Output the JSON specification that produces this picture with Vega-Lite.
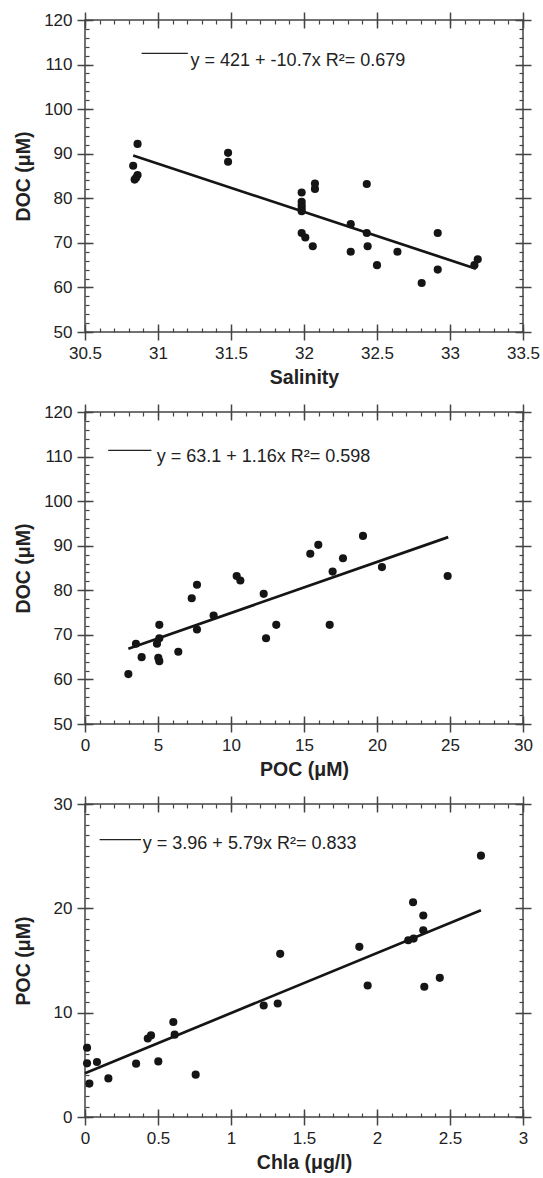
{
  "$schema": "https://vega.github.io/schema/vega-lite/v6.json",
  "padding": {"left": 12, "top": 10, "right": 5, "bottom": 3},
  "spacing": 14,
  "background": "white",
  "config": {
    "view": {"stroke": "#444", "strokeWidth": 1.5},
    "axis": {
      "labelFont": "Liberation Sans", "labelFontSize": 17, "labelColor": "#222",
      "tickColor": "#444", "titleFont": "Liberation Sans", "titleFontSize": 19.5,
      "titleFontWeight": "bold", "titleColor": "#222", "grid": false, "domain": false,
      "labelFlush": false, "labelOverlap": false
    }
  },
  "datasets": {
    "p1": [
      {"salinity": 30.83, "doc": 87.3}, {"salinity": 30.86, "doc": 92.2}, {"salinity": 30.84, "doc": 84.2},
      {"salinity": 30.86, "doc": 85.2}, {"salinity": 30.85, "doc": 84.6}, {"salinity": 31.48, "doc": 90.2},
      {"salinity": 31.48, "doc": 88.2}, {"salinity": 31.984, "doc": 81.3}, {"salinity": 31.984, "doc": 79.2},
      {"salinity": 31.984, "doc": 78.4}, {"salinity": 31.984, "doc": 77.7}, {"salinity": 31.984, "doc": 77.1},
      {"salinity": 32.075, "doc": 83.3}, {"salinity": 32.075, "doc": 82.1}, {"salinity": 31.984, "doc": 72.2},
      {"salinity": 32.009, "doc": 71.2}, {"salinity": 32.06, "doc": 69.25}, {"salinity": 32.32, "doc": 74.2},
      {"salinity": 32.32, "doc": 68.0}, {"salinity": 32.43, "doc": 83.2}, {"salinity": 32.43, "doc": 72.2},
      {"salinity": 32.436, "doc": 69.25}, {"salinity": 32.5, "doc": 65.0}, {"salinity": 32.64, "doc": 68.0},
      {"salinity": 32.806, "doc": 61.0}, {"salinity": 32.916, "doc": 72.2}, {"salinity": 32.916, "doc": 64.0},
      {"salinity": 33.19, "doc": 66.3}, {"salinity": 33.167, "doc": 65.0}
    ],
    "l1": [{"salinity": 30.83, "doc": 89.6}, {"salinity": 33.178, "doc": 64.2}],
    "g1": [{"x1": 30.888, "x2": 31.204, "y": 112.5, "tx": 31.223, "ty": 109.7, "label": "y = 421 + -10.7x R²= 0.679"}],
    "p2": [
      {"poc": 2.97, "doc": 61.2}, {"poc": 3.49, "doc": 68.0}, {"poc": 3.88, "doc": 65.0}, {"poc": 4.93, "doc": 68.0},
      {"poc": 5.09, "doc": 72.25}, {"poc": 5.09, "doc": 69.25}, {"poc": 5.02, "doc": 64.85}, {"poc": 5.09, "doc": 64.1},
      {"poc": 6.39, "doc": 66.2}, {"poc": 7.31, "doc": 78.2}, {"poc": 7.67, "doc": 81.25}, {"poc": 7.67, "doc": 71.2},
      {"poc": 8.81, "doc": 74.35}, {"poc": 10.39, "doc": 83.2}, {"poc": 10.64, "doc": 82.2}, {"poc": 12.24, "doc": 79.2},
      {"poc": 12.4, "doc": 69.25}, {"poc": 13.1, "doc": 72.25}, {"poc": 15.43, "doc": 88.2}, {"poc": 15.98, "doc": 90.2},
      {"poc": 16.76, "doc": 72.25}, {"poc": 16.96, "doc": 84.2}, {"poc": 17.67, "doc": 87.2}, {"poc": 19.04, "doc": 92.2},
      {"poc": 20.34, "doc": 85.2}, {"poc": 24.84, "doc": 83.2}
    ],
    "l2": [{"poc": 2.97, "doc": 66.87}, {"poc": 24.88, "doc": 91.93}],
    "g2": [{"x1": 1.59, "x2": 4.55, "y": 111.4, "tx": 4.91, "ty": 108.8, "label": "y = 63.1 + 1.16x R²= 0.598"}],
    "p3": [
      {"chla": 0.014, "poc": 6.64}, {"chla": 0.014, "poc": 5.14}, {"chla": 0.03, "poc": 3.2}, {"chla": 0.082, "poc": 5.27},
      {"chla": 0.16, "poc": 3.7}, {"chla": 0.35, "poc": 5.11}, {"chla": 0.43, "poc": 7.53}, {"chla": 0.452, "poc": 7.82},
      {"chla": 0.502, "poc": 5.33}, {"chla": 0.605, "poc": 9.1}, {"chla": 0.614, "poc": 7.89}, {"chla": 0.758, "poc": 4.06},
      {"chla": 1.224, "poc": 10.69}, {"chla": 1.32, "poc": 10.88}, {"chla": 1.337, "poc": 15.64}, {"chla": 1.879, "poc": 16.31},
      {"chla": 1.936, "poc": 12.6}, {"chla": 2.214, "poc": 16.94}, {"chla": 2.251, "poc": 17.1}, {"chla": 2.247, "poc": 20.58},
      {"chla": 2.317, "poc": 19.31}, {"chla": 2.317, "poc": 17.9}, {"chla": 2.324, "poc": 12.48}, {"chla": 2.43, "poc": 13.34},
      {"chla": 2.712, "poc": 25.05}
    ],
    "l3": [{"chla": 0.0, "poc": 4.2}, {"chla": 2.712, "poc": 19.82}],
    "g3": [{"x1": 0.1, "x2": 0.384, "y": 26.59, "tx": 0.396, "ty": 25.7, "label": "y = 3.96 + 5.79x R²= 0.833"}]
  },
  "vconcat": [
    {
      "width": 438, "height": 312,
      "resolve": {"axis": {"x": "independent", "y": "independent"}},
      "layer": [
        {
          "data": {"name": "p1"},
          "mark": {"type": "circle", "size": 66, "color": "#151515", "opacity": 1},
          "encoding": {
            "x": {"field": "salinity", "type": "quantitative", "scale": {"domain": [30.5, 33.5], "nice": false, "zero": false},
              "axis": {"orient": "bottom", "values": [30.5, 31, 31.5, 32, 32.5, 33, 33.5], "format": "~r", "offset": -8, "tickSize": 16, "tickWidth": 1.5, "labelPadding": 5, "title": "Salinity", "titleBaseline": "alphabetic", "titleY": 59.6}},
            "y": {"field": "doc", "type": "quantitative", "scale": {"domain": [50, 120], "nice": false, "zero": false},
              "axis": {"orient": "left", "values": [50, 60, 70, 80, 90, 100, 110, 120], "format": "~r", "offset": -8, "tickSize": 16, "tickWidth": 1.5, "labelPadding": 5, "title": "DOC (μM)", "titleBaseline": "alphabetic", "titleAngle": 270, "titleX": -64}}
          }
        },
        {
          "data": {"name": "l1"},
          "mark": {"type": "line", "color": "#151515", "strokeWidth": 2.7},
          "encoding": {
            "x": {"field": "salinity", "type": "quantitative", "scale": {"domain": [30.5, 33.5], "nice": false, "zero": false},
              "axis": {"orient": "bottom", "values": [30.5, 30.6, 30.7, 30.8, 30.9, 31, 31.1, 31.2, 31.3, 31.4, 31.5, 31.6, 31.7, 31.8, 31.9, 32, 32.1, 32.2, 32.3, 32.4, 32.5, 32.6, 32.7, 32.8, 32.9, 33, 33.1, 33.2, 33.3, 33.4, 33.5], "offset": -4, "tickSize": 4, "tickWidth": 1.2, "labels": false, "title": null}},
            "y": {"field": "doc", "type": "quantitative", "scale": {"domain": [50, 120], "nice": false, "zero": false},
              "axis": {"orient": "left", "values": [50, 52, 54, 56, 58, 60, 62, 64, 66, 68, 70, 72, 74, 76, 78, 80, 82, 84, 86, 88, 90, 92, 94, 96, 98, 100, 102, 104, 106, 108, 110, 112, 114, 116, 118, 120], "offset": -4, "tickSize": 4, "tickWidth": 1.2, "labels": false, "title": null}}
          }
        },
        {
          "data": {"name": "g1"},
          "mark": {"type": "rule", "color": "#222", "strokeWidth": 1.3},
          "encoding": {
            "x": {"field": "x1", "type": "quantitative", "scale": {"domain": [30.5, 33.5], "nice": false, "zero": false},
              "axis": {"orient": "top", "values": [30.5, 31, 31.5, 32, 32.5, 33, 33.5], "offset": -8, "tickSize": 16, "tickWidth": 1.5, "labels": false, "title": null}},
            "x2": {"field": "x2"},
            "y": {"field": "y", "type": "quantitative", "scale": {"domain": [50, 120], "nice": false, "zero": false},
              "axis": {"orient": "right", "values": [50, 60, 70, 80, 90, 100, 110, 120], "offset": -8, "tickSize": 16, "tickWidth": 1.5, "labels": false, "title": null}}
          }
        },
        {
          "data": {"name": "g1"},
          "mark": {"type": "text", "align": "left", "baseline": "alphabetic", "font": "Liberation Sans", "fontSize": 18, "color": "#222"},
          "encoding": {
            "x": {"field": "tx", "type": "quantitative", "scale": {"domain": [30.5, 33.5], "nice": false, "zero": false},
              "axis": {"orient": "top", "values": [30.5, 30.6, 30.7, 30.8, 30.9, 31, 31.1, 31.2, 31.3, 31.4, 31.5, 31.6, 31.7, 31.8, 31.9, 32, 32.1, 32.2, 32.3, 32.4, 32.5, 32.6, 32.7, 32.8, 32.9, 33, 33.1, 33.2, 33.3, 33.4, 33.5], "offset": -4, "tickSize": 4, "tickWidth": 1.2, "labels": false, "title": null}},
            "y": {"field": "ty", "type": "quantitative", "scale": {"domain": [50, 120], "nice": false, "zero": false},
              "axis": {"orient": "right", "values": [50, 52, 54, 56, 58, 60, 62, 64, 66, 68, 70, 72, 74, 76, 78, 80, 82, 84, 86, 88, 90, 92, 94, 96, 98, 100, 102, 104, 106, 108, 110, 112, 114, 116, 118, 120], "offset": -4, "tickSize": 4, "tickWidth": 1.2, "labels": false, "title": null}},
            "text": {"field": "label"}
          }
        }
      ]
    },
    {
      "width": 438, "height": 312,
      "resolve": {"axis": {"x": "independent", "y": "independent"}},
      "layer": [
        {
          "data": {"name": "p2"},
          "mark": {"type": "circle", "size": 66, "color": "#151515", "opacity": 1},
          "encoding": {
            "x": {"field": "poc", "type": "quantitative", "scale": {"domain": [0, 30], "nice": false, "zero": false},
              "axis": {"orient": "bottom", "values": [0, 5, 10, 15, 20, 25, 30], "format": "~r", "offset": -8, "tickSize": 16, "tickWidth": 1.5, "labelPadding": 5, "title": "POC (μM)", "titleBaseline": "alphabetic", "titleY": 59.6}},
            "y": {"field": "doc", "type": "quantitative", "scale": {"domain": [50, 120], "nice": false, "zero": false},
              "axis": {"orient": "left", "values": [50, 60, 70, 80, 90, 100, 110, 120], "format": "~r", "offset": -8, "tickSize": 16, "tickWidth": 1.5, "labelPadding": 5, "title": "DOC (μM)", "titleBaseline": "alphabetic", "titleAngle": 270, "titleX": -64}}
          }
        },
        {
          "data": {"name": "l2"},
          "mark": {"type": "line", "color": "#151515", "strokeWidth": 2.7},
          "encoding": {
            "x": {"field": "poc", "type": "quantitative", "scale": {"domain": [0, 30], "nice": false, "zero": false},
              "axis": {"orient": "bottom", "values": [0, 1, 2, 3, 4, 5, 6, 7, 8, 9, 10, 11, 12, 13, 14, 15, 16, 17, 18, 19, 20, 21, 22, 23, 24, 25, 26, 27, 28, 29, 30], "offset": -4, "tickSize": 4, "tickWidth": 1.2, "labels": false, "title": null}},
            "y": {"field": "doc", "type": "quantitative", "scale": {"domain": [50, 120], "nice": false, "zero": false},
              "axis": {"orient": "left", "values": [50, 52, 54, 56, 58, 60, 62, 64, 66, 68, 70, 72, 74, 76, 78, 80, 82, 84, 86, 88, 90, 92, 94, 96, 98, 100, 102, 104, 106, 108, 110, 112, 114, 116, 118, 120], "offset": -4, "tickSize": 4, "tickWidth": 1.2, "labels": false, "title": null}}
          }
        },
        {
          "data": {"name": "g2"},
          "mark": {"type": "rule", "color": "#222", "strokeWidth": 1.3},
          "encoding": {
            "x": {"field": "x1", "type": "quantitative", "scale": {"domain": [0, 30], "nice": false, "zero": false},
              "axis": {"orient": "top", "values": [0, 5, 10, 15, 20, 25, 30], "offset": -8, "tickSize": 16, "tickWidth": 1.5, "labels": false, "title": null}},
            "x2": {"field": "x2"},
            "y": {"field": "y", "type": "quantitative", "scale": {"domain": [50, 120], "nice": false, "zero": false},
              "axis": {"orient": "right", "values": [50, 60, 70, 80, 90, 100, 110, 120], "offset": -8, "tickSize": 16, "tickWidth": 1.5, "labels": false, "title": null}}
          }
        },
        {
          "data": {"name": "g2"},
          "mark": {"type": "text", "align": "left", "baseline": "alphabetic", "font": "Liberation Sans", "fontSize": 18, "color": "#222"},
          "encoding": {
            "x": {"field": "tx", "type": "quantitative", "scale": {"domain": [0, 30], "nice": false, "zero": false},
              "axis": {"orient": "top", "values": [0, 1, 2, 3, 4, 5, 6, 7, 8, 9, 10, 11, 12, 13, 14, 15, 16, 17, 18, 19, 20, 21, 22, 23, 24, 25, 26, 27, 28, 29, 30], "offset": -4, "tickSize": 4, "tickWidth": 1.2, "labels": false, "title": null}},
            "y": {"field": "ty", "type": "quantitative", "scale": {"domain": [50, 120], "nice": false, "zero": false},
              "axis": {"orient": "right", "values": [50, 52, 54, 56, 58, 60, 62, 64, 66, 68, 70, 72, 74, 76, 78, 80, 82, 84, 86, 88, 90, 92, 94, 96, 98, 100, 102, 104, 106, 108, 110, 112, 114, 116, 118, 120], "offset": -4, "tickSize": 4, "tickWidth": 1.2, "labels": false, "title": null}},
            "text": {"field": "label"}
          }
        }
      ]
    },
    {
      "width": 438, "height": 313,
      "resolve": {"axis": {"x": "independent", "y": "independent"}},
      "layer": [
        {
          "data": {"name": "p3"},
          "mark": {"type": "circle", "size": 66, "color": "#151515", "opacity": 1},
          "encoding": {
            "x": {"field": "chla", "type": "quantitative", "scale": {"domain": [0, 3], "nice": false, "zero": false},
              "axis": {"orient": "bottom", "values": [0, 0.5, 1, 1.5, 2, 2.5, 3], "format": "~r", "offset": -8, "tickSize": 16, "tickWidth": 1.5, "labelPadding": 5, "title": "Chla (μg/l)", "titleBaseline": "alphabetic", "titleY": 59.6}},
            "y": {"field": "poc", "type": "quantitative", "scale": {"domain": [0, 30], "nice": false, "zero": false},
              "axis": {"orient": "left", "values": [0, 10, 20, 30], "format": "~r", "offset": -8, "tickSize": 16, "tickWidth": 1.5, "labelPadding": 5, "title": "POC (μM)", "titleBaseline": "alphabetic", "titleAngle": 270, "titleX": -64}}
          }
        },
        {
          "data": {"name": "l3"},
          "mark": {"type": "line", "color": "#151515", "strokeWidth": 2.7},
          "encoding": {
            "x": {"field": "chla", "type": "quantitative", "scale": {"domain": [0, 3], "nice": false, "zero": false},
              "axis": {"orient": "bottom", "values": [0, 0.1, 0.2, 0.3, 0.4, 0.5, 0.6, 0.7, 0.8, 0.9, 1, 1.1, 1.2, 1.3, 1.4, 1.5, 1.6, 1.7, 1.8, 1.9, 2, 2.1, 2.2, 2.3, 2.4, 2.5, 2.6, 2.7, 2.8, 2.9, 3], "offset": -4, "tickSize": 4, "tickWidth": 1.2, "labels": false, "title": null}},
            "y": {"field": "poc", "type": "quantitative", "scale": {"domain": [0, 30], "nice": false, "zero": false},
              "axis": {"orient": "left", "values": [0, 1, 2, 3, 4, 5, 6, 7, 8, 9, 10, 11, 12, 13, 14, 15, 16, 17, 18, 19, 20, 21, 22, 23, 24, 25, 26, 27, 28, 29, 30], "offset": -4, "tickSize": 4, "tickWidth": 1.2, "labels": false, "title": null}}
          }
        },
        {
          "data": {"name": "g3"},
          "mark": {"type": "rule", "color": "#222", "strokeWidth": 1.3},
          "encoding": {
            "x": {"field": "x1", "type": "quantitative", "scale": {"domain": [0, 3], "nice": false, "zero": false},
              "axis": {"orient": "top", "values": [0, 0.5, 1, 1.5, 2, 2.5, 3], "offset": -8, "tickSize": 16, "tickWidth": 1.5, "labels": false, "title": null}},
            "x2": {"field": "x2"},
            "y": {"field": "y", "type": "quantitative", "scale": {"domain": [0, 30], "nice": false, "zero": false},
              "axis": {"orient": "right", "values": [0, 10, 20, 30], "offset": -8, "tickSize": 16, "tickWidth": 1.5, "labels": false, "title": null}}
          }
        },
        {
          "data": {"name": "g3"},
          "mark": {"type": "text", "align": "left", "baseline": "alphabetic", "font": "Liberation Sans", "fontSize": 18, "color": "#222"},
          "encoding": {
            "x": {"field": "tx", "type": "quantitative", "scale": {"domain": [0, 3], "nice": false, "zero": false},
              "axis": {"orient": "top", "values": [0, 0.1, 0.2, 0.3, 0.4, 0.5, 0.6, 0.7, 0.8, 0.9, 1, 1.1, 1.2, 1.3, 1.4, 1.5, 1.6, 1.7, 1.8, 1.9, 2, 2.1, 2.2, 2.3, 2.4, 2.5, 2.6, 2.7, 2.8, 2.9, 3], "offset": -4, "tickSize": 4, "tickWidth": 1.2, "labels": false, "title": null}},
            "y": {"field": "ty", "type": "quantitative", "scale": {"domain": [0, 30], "nice": false, "zero": false},
              "axis": {"orient": "right", "values": [0, 1, 2, 3, 4, 5, 6, 7, 8, 9, 10, 11, 12, 13, 14, 15, 16, 17, 18, 19, 20, 21, 22, 23, 24, 25, 26, 27, 28, 29, 30], "offset": -4, "tickSize": 4, "tickWidth": 1.2, "labels": false, "title": null}},
            "text": {"field": "label"}
          }
        }
      ]
    }
  ]
}
